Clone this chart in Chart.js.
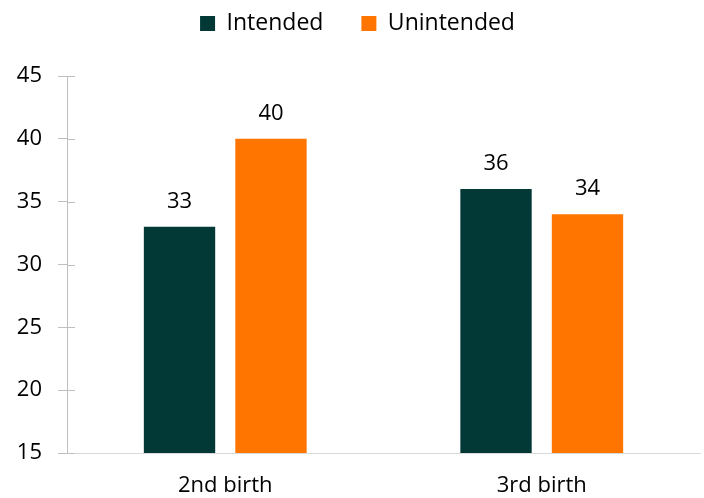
<!DOCTYPE html>
<html><head><meta charset="utf-8">
<script src="https://cdn.jsdelivr.net/npm/chart.js@4/dist/chart.umd.min.js"></script>
<style>html,body{margin:0;padding:0;background:#fff}#wrap{width:704px;height:498px}</style>
</head><body><div id="wrap"><canvas id="c"></canvas></div>
<script>
const categories = ["2nd birth", "3rd birth"];
const intended = [33, 36];
const unintended = [40, 34];
const seriesNames = ["Intended", "Unintended"];
const yTicks = [15, 20, 25, 30, 35, 40, 45];

const FONT = "'Open Sans', sans-serif";
const FS = 22;
const labelPlugin = {
  id: 'vals',
  afterDatasetsDraw(chart) {
    const ctx = chart.ctx;
    ctx.save();
    ctx.font = FS + "px " + FONT;
    ctx.fillStyle = "#000";
    ctx.textAlign = "center";
    ctx.textBaseline = "middle";
    chart.data.datasets.forEach((ds, i) => {
      chart.getDatasetMeta(i).data.forEach((bar, j) => {
        ctx.fillText(String(ds.data[j]), bar.x, bar.y - 25);
      });
    });
    ctx.restore();
  }
};
const innerTicks = {
  id: 'innerTicks',
  afterDraw(chart) {
    const y = chart.scales.y, ctx = chart.ctx;
    ctx.save();
    ctx.strokeStyle = "#bfbfbf";
    ctx.lineWidth = 1;
    y.ticks.forEach(t => {
      const py = Math.round(y.getPixelForValue(t.value)) + 0.5;
      ctx.beginPath();
      ctx.moveTo(y.right, py);
      ctx.lineTo(y.right + 8, py);
      ctx.stroke();
    });
    ctx.restore();
  }
};
const legendSpace = {
  id: 'legendSpace',
  beforeInit(chart) {
    const lg = chart.legend;
    const origFit = lg.fit;
    lg.fit = function () { origFit.call(this); this.height = 76; };
    const origDraw = lg.draw;
    lg.draw = function () {
      const ctx = this.ctx;
      ctx.save();
      ctx.translate(0, -26);
      origDraw.call(this);
      ctx.restore();
    };
  }
};

new Chart(document.getElementById('c'), {
  type: 'bar',
  data: {
    labels: categories,
    datasets: [
      { label: seriesNames[0], data: intended, backgroundColor: "#023836", categoryPercentage: 0.578, barPercentage: 0.78 },
      { label: seriesNames[1], data: unintended, backgroundColor: "#FF7500", categoryPercentage: 0.578, barPercentage: 0.78 }
    ]
  },
  options: {
    responsive: true,
    maintainAspectRatio: false,
    animation: false,
    layout: { padding: { left: 15, right: 4, top: 0, bottom: 0 } },
    plugins: {
      legend: {
        position: 'top',
        labels: { font: { family: FONT, size: 23 }, color: "#000", boxWidth: 15, boxHeight: 15, padding: 38 },
      },
      tooltip: { enabled: false }
    },
    scales: {
      x: {
        grid: { display: false, drawTicks: false },
        border: { color: "#d9d9d9", width: 1 },
        ticks: { font: { family: FONT, size: FS }, color: "#000", padding: 20 },
        afterFit(axis) { axis.height = 45; }
      },
      y: {
        min: 15, max: 45,
        afterBuildTicks(axis) { axis.ticks = yTicks.map(v => ({ value: v })); },
        grid: { drawOnChartArea: false, drawTicks: true, tickLength: 9, color: "#bfbfbf" },
        border: { color: "#bfbfbf", width: 1 },
        ticks: { font: { family: FONT, size: FS }, color: "#000", padding: 16 },
        afterFit(axis) { axis.width = 52; }
      }
    }
  },
  plugins: [labelPlugin, innerTicks, legendSpace]
});
</script></body></html>
